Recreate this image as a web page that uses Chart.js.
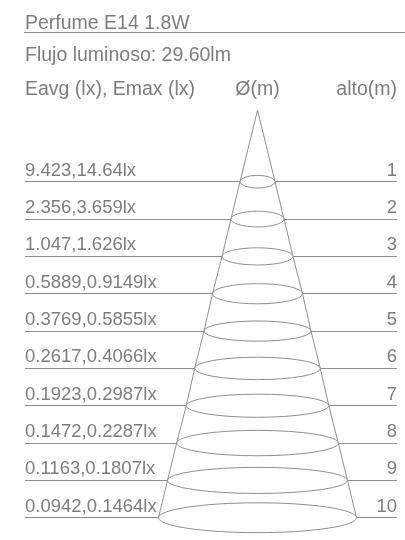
<!DOCTYPE html>
<html>
<head>
<meta charset="utf-8">
<script src="https://cdn.jsdelivr.net/npm/chart.js@4"></script>
<style>
  html, body { margin: 0; padding: 0; background: #fff; }
  #wrap { width: 405px; height: 540px; }
</style>
</head>
<body>
<div id="wrap"><canvas id="c"></canvas></div>
<script>
// ── data ──
const TITLE = 'Perfume E14 1.8W';
const SUBTITLE = 'Flujo luminoso: 29.60lm';
const HEADERS = ['Eavg (lx), Emax (lx)', 'Ø(m)', 'alto(m)'];

const ALTO = [1, 2, 3, 4, 5, 6, 7, 8, 9, 10];
const EAVG = ['9.423', '2.356', '1.047', '0.5889', '0.3769', '0.2617', '0.1923', '0.1472', '0.1163', '0.0942'];
const EMAX = ['14.64', '3.659', '1.626', '0.9149', '0.5855', '0.4066', '0.2987', '0.2287', '0.1807', '0.1464'];

// beam half-width at each height (x units) and the depth of each ring (alto units)
const BEAM_RADIUS = [0.175, 0.265, 0.355, 0.45, 0.535, 0.628, 0.713, 0.808, 0.90, 0.99];
const BEAM_DEPTH = [0.17, 0.21, 0.23, 0.27, 0.27, 0.30, 0.31, 0.34, 0.35, 0.40];
const APEX_ALTO = -0.92;

const TEXT = '#7d7d7d';
const LINE = '#8e8e8e';
const FONT = '"Liberation Sans", Arial, sans-serif';

Chart.defaults.font.family = FONT;
Chart.defaults.color = TEXT;

const luxLabel = (v) => {
  const i = ALTO.indexOf(v);
  return i < 0 ? '' : `${EAVG[i]},${EMAX[i]}lx`;
};
const setRowTicks = (scale) => { scale.ticks = ALTO.map((v) => ({ value: v })); };

// cone edges: apex, then through the end of every ring
const leftEdge = [{ x: 0, y: APEX_ALTO }].concat(ALTO.map((h, i) => ({ x: -BEAM_RADIUS[i], y: h })));
const rightEdge = [{ x: 0, y: APEX_ALTO }].concat(ALTO.map((h, i) => ({ x: BEAM_RADIUS[i], y: h })));

/** White-filled rings across the cone, hiding the row line behind them */
const ringsPlugin = {
  id: 'rings',
  afterDatasetsDraw(chart) {
    const { ctx, scales: { x, y } } = chart;
    const cx = x.getPixelForValue(0);
    ctx.save();
    ctx.strokeStyle = LINE;
    ctx.lineWidth = 1;
    ctx.fillStyle = '#fff';
    ALTO.forEach((h, i) => {
      const cy = y.getPixelForValue(h);
      const rx = x.getPixelForValue(BEAM_RADIUS[i]) - cx;
      const ry = Math.abs(y.getPixelForValue(h + BEAM_DEPTH[i]) - cy);
      ctx.beginPath();
      ctx.ellipse(cx, cy, rx, ry, 0, 0, Math.PI * 2);
      ctx.fill();
      ctx.stroke();
    });
    ctx.restore();
  },
};

/** Title lines and column headers */
const headerPlugin = {
  id: 'header',
  afterDraw(chart) {
    const { ctx, chartArea, scales: { x } } = chart;
    ctx.save();
    ctx.fillStyle = TEXT;
    ctx.font = `19.5px ${FONT}`;
    ctx.textBaseline = 'alphabetic';
    ctx.textAlign = 'left';
    ctx.fillText(TITLE, chartArea.left, 28.5);
    ctx.fillText(SUBTITLE, chartArea.left, 61);
    ctx.fillText(HEADERS[0], chartArea.left, 95);
    ctx.textAlign = 'center';
    ctx.fillText(HEADERS[1], x.getPixelForValue(0), 95);
    ctx.textAlign = 'right';
    ctx.fillText(HEADERS[2], chartArea.right, 95);

    ctx.strokeStyle = LINE;
    ctx.lineWidth = 1;
    ctx.beginPath();
    ctx.moveTo(chartArea.left - 1, 32.5);
    ctx.lineTo(chart.width, 32.5);
    ctx.stroke();
    ctx.restore();
  },
};

const edgeStyle = {
  showLine: true,
  borderColor: LINE,
  borderWidth: 1,
  pointRadius: 0,
  tension: 0,
  clip: false,
};

new Chart(document.getElementById('c'), {
  type: 'scatter',
  data: {
    datasets: [
      { label: 'left', data: leftEdge, ...edgeStyle },
      { label: 'right', data: rightEdge, ...edgeStyle },
    ],
  },
  options: {
    responsive: true,
    maintainAspectRatio: false,
    animation: false,
    events: [],
    layout: { padding: { left: 25, right: 8, top: 12, bottom: 12 } },
    scales: {
      x: { type: 'linear', display: false, min: -2.325, max: 1.395 },
      y: {
        type: 'linear',
        position: 'left',
        reverse: true,
        min: -3.546,
        max: 10.275,
        afterBuildTicks: setRowTicks,
        border: { display: false },
        grid: { color: LINE, lineWidth: 1, drawTicks: false },
        ticks: {
          mirror: true,
          padding: 0,
          labelOffset: -11,
          color: TEXT,
          font: { size: 18.5 },
          callback: (v) => luxLabel(v),
        },
      },
      yR: {
        type: 'linear',
        position: 'right',
        reverse: true,
        min: -3.546,
        max: 10.275,
        afterBuildTicks: setRowTicks,
        border: { display: false },
        grid: { display: false, drawTicks: false },
        ticks: {
          mirror: true,
          padding: 0,
          labelOffset: -11,
          color: TEXT,
          font: { size: 18.5 },
          callback: (v) => String(v),
        },
      },
    },
    plugins: {
      legend: { display: false },
      tooltip: { enabled: false },
    },
  },
  plugins: [ringsPlugin, headerPlugin],
});
</script>
</body>
</html>
